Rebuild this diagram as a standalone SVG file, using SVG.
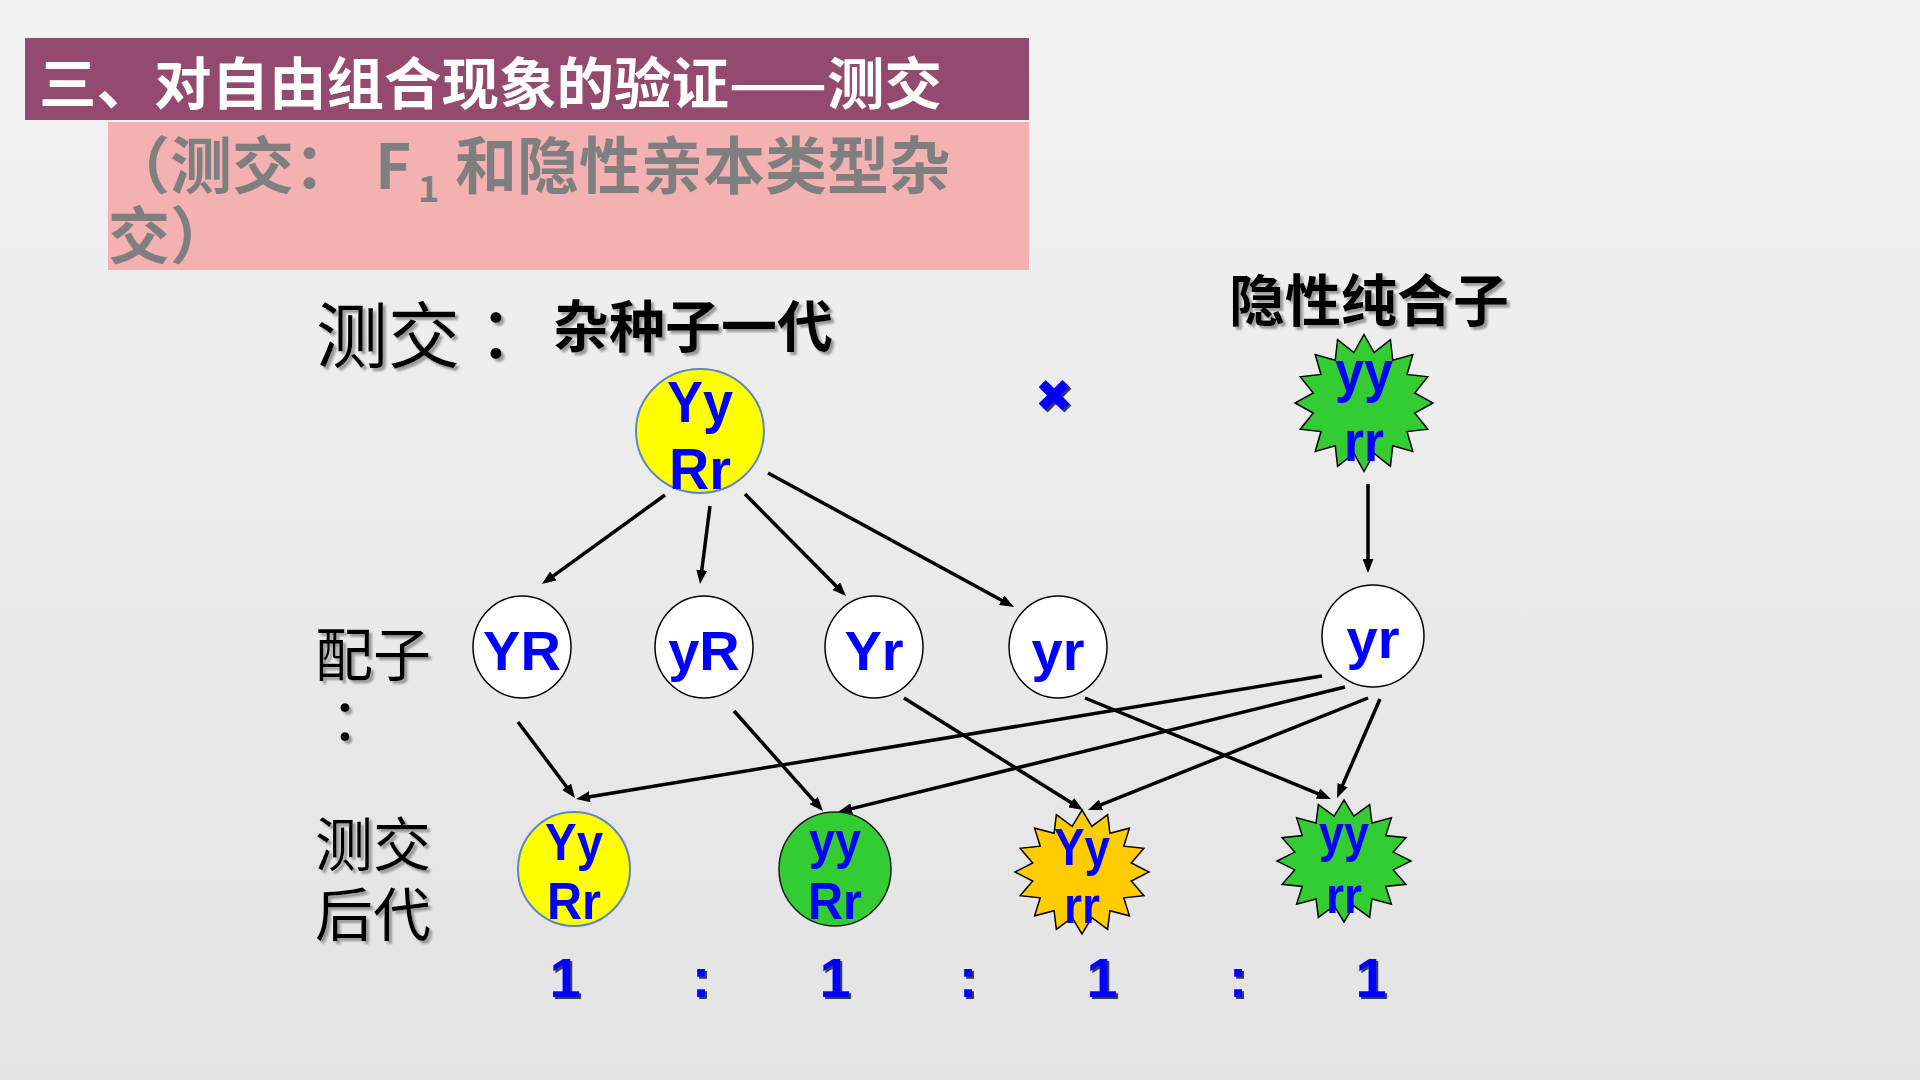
<svg xmlns="http://www.w3.org/2000/svg" xmlns:xlink="http://www.w3.org/1999/xlink" width="1920" height="1080" viewBox="0 0 1920 1080">
<style>
.cjk{font-family:"Noto Sans CJK SC","Noto Sans CJK TC",sans-serif}
.blk{fill:#000}
.gene{font-family:"Liberation Sans",Arial,sans-serif;font-weight:bold;fill:#0000ff;text-anchor:middle}
.conn{stroke:#000;stroke-width:3.5;fill:none;marker-end:url(#ah)}
.white{fill:#fff;stroke:#000;stroke-width:1.5}
</style>
<defs>
<linearGradient id="bg" x1="0" y1="0" x2="0" y2="1">
<stop offset="0" stop-color="#f2f2f2"/>
<stop offset="1" stop-color="#e3e3e3"/>
</linearGradient>
<filter id="sh" x="-10%" y="-10%" width="130%" height="140%">
<feDropShadow dx="3" dy="3" stdDeviation="0.8" flood-color="#8c8c8c" flood-opacity="0.85"/>
</filter>
<filter id="shb" x="-20%" y="-20%" width="150%" height="150%">
<feDropShadow dx="2" dy="2" stdDeviation="0.5" flood-color="#1a1a1a" flood-opacity="0.85"/>
</filter>
<marker id="ah" markerUnits="userSpaceOnUse" markerWidth="14" markerHeight="11" refX="3" refY="5.5" orient="auto">
<path d="M0,0 L14,5.5 L0,11 z" fill="#000"/>
</marker>
<polygon id="star" vector-effect="non-scaling-stroke" points="0,-100 14.63,-73.56 38.27,-92.39 41.67,-62.36 70.71,-70.71 62.36,-41.67 92.39,-38.27 73.56,-14.63 100,0 73.56,14.63 92.39,38.27 62.36,41.67 70.71,70.71 41.67,62.36 38.27,92.39 14.63,73.56 0,100 -14.63,73.56 -38.27,92.39 -41.67,62.36 -70.71,70.71 -62.36,41.67 -92.39,38.27 -73.56,14.63 -100,0 -73.56,-14.63 -92.39,-38.27 -62.36,-41.67 -70.71,-70.71 -41.67,-62.36 -38.27,-92.39 -14.63,-73.56"/>
</defs>

<rect x="0" y="0" width="1920" height="1080" fill="url(#bg)"/>

<g id="title">
<rect x="25" y="38" width="1004" height="82" fill="#934a6e"/>
<text class="cjk" x="39" y="104" font-size="56" font-weight="bold" fill="#fff" textLength="903" lengthAdjust="spacingAndGlyphs">三、对自由组合现象的验证——测交</text>
</g>

<g id="subtitle">
<rect x="108" y="122" width="921" height="148" fill="#f4b1b1"/>
<text class="cjk" font-size="62" font-weight="bold" fill="#7f7f7f" y="189"><tspan x="108">（测交：</tspan><tspan x="375">F</tspan><tspan x="418" y="202" font-size="36">1</tspan><tspan x="455" y="189">和隐性亲本类型杂</tspan><tspan x="108" y="259">交）</tspan></text>
</g>

<g id="labels" filter="url(#sh)">
<text class="cjk blk" x="316" y="362" font-size="72">测交<tspan font-family="Noto Sans CJK TC">：</tspan></text>
<text class="cjk blk" x="553" y="347" font-size="56" font-weight="bold">杂种子一代</text>
<text class="cjk blk" x="1229" y="321" font-size="56" font-weight="bold">隐性纯合子</text>
<text class="cjk blk" font-size="58"><tspan x="315" y="676">配子</tspan><tspan x="316" y="744" font-family="Noto Sans CJK TC">：</tspan></text>
<text class="cjk blk" font-size="58"><tspan x="315" y="866">测交</tspan><tspan x="315" y="936">后代</tspan></text>
</g>

<g id="cross" filter="url(#shb)">
<text x="1054" y="412" font-size="46" font-family="DejaVu Sans" fill="#0000ff" text-anchor="middle">✖</text>
</g>

<g id="connectors">
<line class="conn" x1="665" y1="495" x2="550.9" y2="577.6"/>
<line class="conn" x1="710" y1="506" x2="701.4" y2="573.1"/>
<line class="conn" x1="745" y1="494" x2="838.3" y2="588.2"/>
<line class="conn" x1="768" y1="473" x2="1004.3" y2="601.7"/>
<line class="conn" x1="1368" y1="484" x2="1368" y2="562"/>
<line class="conn" x1="518" y1="722" x2="568.4" y2="789.2"/>
<line class="conn" x1="1322" y1="676" x2="586.9" y2="797.2"/>
<line class="conn" x1="734" y1="711" x2="815.7" y2="802.8"/>
<line class="conn" x1="1345" y1="687" x2="848.7" y2="809.4"/>
<line class="conn" x1="904" y1="698" x2="1073.7" y2="804.2"/>
<line class="conn" x1="1368" y1="698" x2="1098.2" y2="805.9"/>
<line class="conn" x1="1085" y1="698" x2="1320.8" y2="794.8"/>
<line class="conn" x1="1380" y1="699" x2="1341.4" y2="787.9"/>
</g>

<g id="f1">
<ellipse cx="700" cy="431" rx="64" ry="62" fill="#ffff00" stroke="#5b86c5" stroke-width="2"/>
<text class="gene" x="700" y="422" font-size="58" textLength="66" lengthAdjust="spacingAndGlyphs">Yy</text>
<text class="gene" x="700" y="489" font-size="58" textLength="62" lengthAdjust="spacingAndGlyphs">Rr</text>
</g>

<g id="recessive-parent">
<use xlink:href="#star" transform="translate(1364,403) scale(0.69,0.685)" fill="#33cc33" stroke="#000" stroke-width="1.5"/>
<text class="gene" x="1364" y="391" font-size="58" textLength="58" lengthAdjust="spacingAndGlyphs">yy</text>
<text class="gene" x="1364" y="461" font-size="58" textLength="40" lengthAdjust="spacingAndGlyphs">rr</text>
</g>

<g id="gamete-YR">
<ellipse class="white" cx="522" cy="647" rx="49" ry="51"/>
<text class="gene" x="522" y="670" font-size="56">YR</text>
</g>
<g id="gamete-yR">
<ellipse class="white" cx="704" cy="647" rx="49" ry="51"/>
<text class="gene" x="704" y="670" font-size="56">yR</text>
</g>
<g id="gamete-Yr">
<ellipse class="white" cx="874" cy="647" rx="49" ry="51"/>
<text class="gene" x="874" y="670" font-size="56">Yr</text>
</g>
<g id="gamete-yr">
<ellipse class="white" cx="1058" cy="647" rx="49" ry="51"/>
<text class="gene" x="1058" y="670" font-size="56">yr</text>
</g>
<g id="gamete-yr-recessive">
<ellipse class="white" cx="1373" cy="636" rx="51" ry="51"/>
<text class="gene" x="1373" y="658" font-size="56">yr</text>
</g>

<g id="offspring-YyRr">
<ellipse cx="574" cy="869" rx="56" ry="57" fill="#ffff00" stroke="#5b86c5" stroke-width="2"/>
<text class="gene" x="574" y="860" font-size="52" textLength="58" lengthAdjust="spacingAndGlyphs">Yy</text>
<text class="gene" x="574" y="919" font-size="52" textLength="54" lengthAdjust="spacingAndGlyphs">Rr</text>
</g>
<g id="offspring-yyRr">
<ellipse cx="835" cy="869" rx="56" ry="57" fill="#33cc33" stroke="#1a1a1a" stroke-width="1.5"/>
<text class="gene" x="835" y="858" font-size="52" textLength="52" lengthAdjust="spacingAndGlyphs">yy</text>
<text class="gene" x="835" y="919" font-size="52" textLength="54" lengthAdjust="spacingAndGlyphs">Rr</text>
</g>
<g id="offspring-Yyrr">
<use xlink:href="#star" transform="translate(1082,872) scale(0.67,0.62)" fill="#ffcc00" stroke="#000" stroke-width="1.5"/>
<text class="gene" x="1082" y="865" font-size="52" textLength="56" lengthAdjust="spacingAndGlyphs">Yy</text>
<text class="gene" x="1082" y="923" font-size="52" textLength="36" lengthAdjust="spacingAndGlyphs">rr</text>
</g>
<g id="offspring-yyrr">
<use xlink:href="#star" transform="translate(1344,861) scale(0.67,0.61)" fill="#33cc33" stroke="#000" stroke-width="1.5"/>
<text class="gene" x="1344" y="851" font-size="52" textLength="50" lengthAdjust="spacingAndGlyphs">yy</text>
<text class="gene" x="1344" y="913" font-size="52" textLength="36" lengthAdjust="spacingAndGlyphs">rr</text>
</g>

<g id="ratio" filter="url(#shb)">
<text class="gene" y="997" font-size="56"><tspan x="565">1</tspan><tspan x="701">:</tspan><tspan x="835">1</tspan><tspan x="968">:</tspan><tspan x="1102">1</tspan><tspan x="1238">:</tspan><tspan x="1371">1</tspan></text>
</g>
</svg>
